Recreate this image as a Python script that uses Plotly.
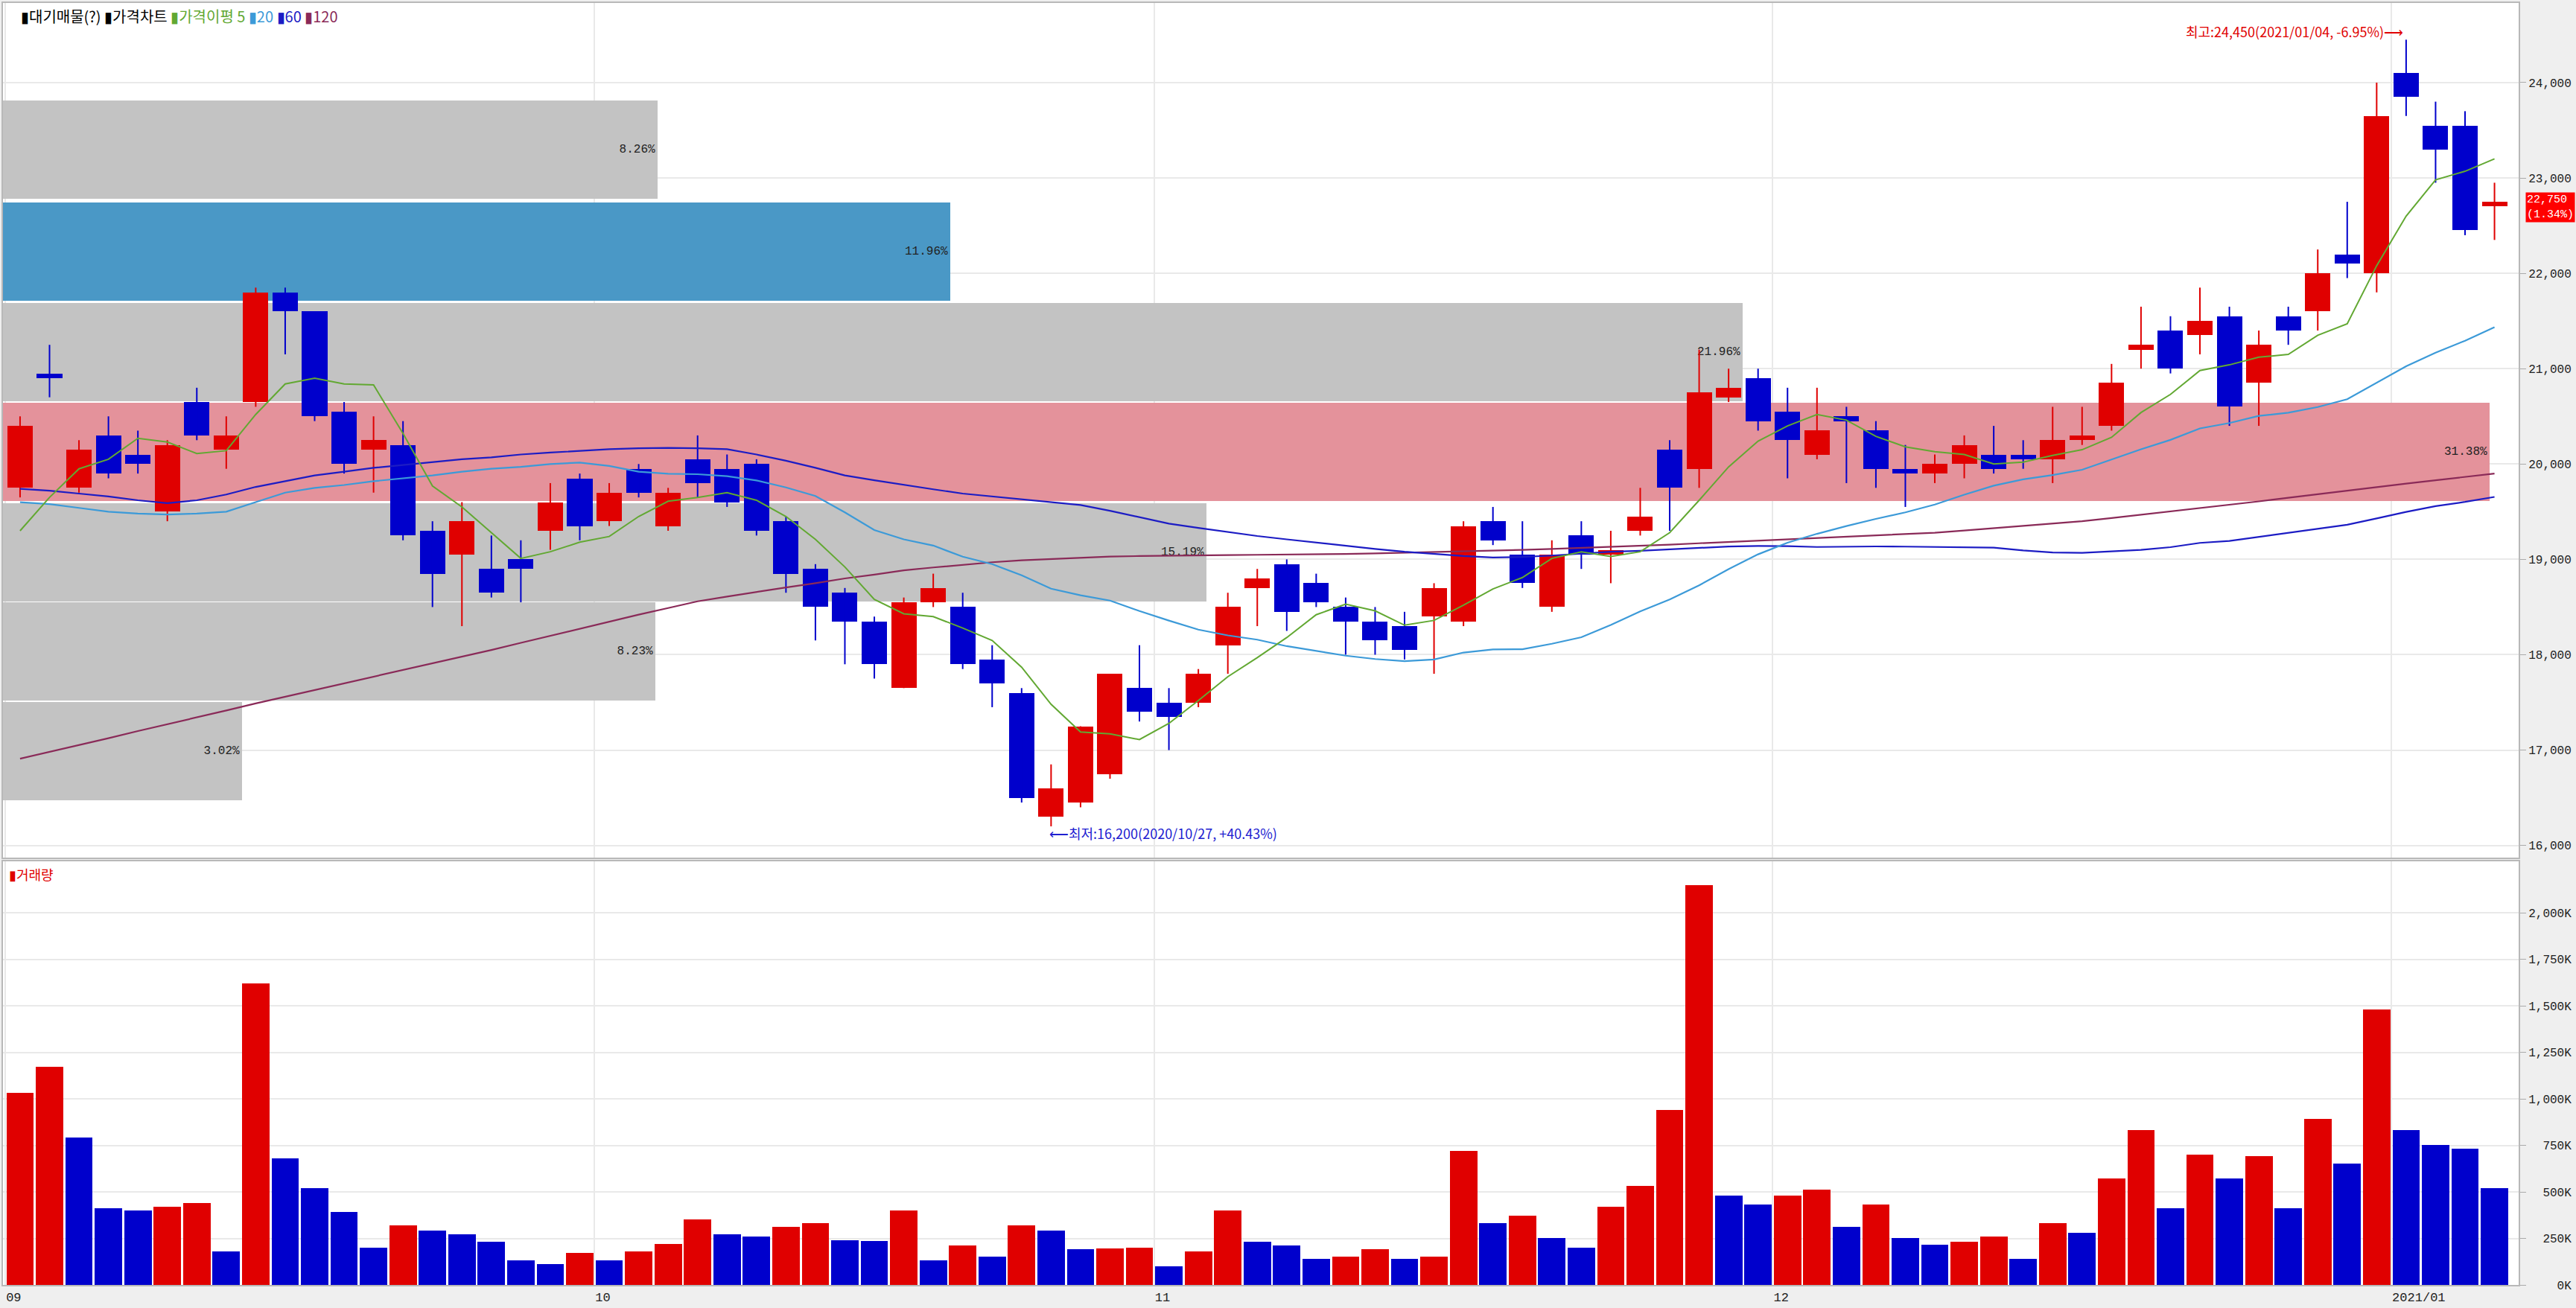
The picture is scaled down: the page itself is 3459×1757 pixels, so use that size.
import plotly.graph_objects as go

# ---------------- data ----------------
opens = [19750, 20950, 19750, 20300, 20100, 19500, 20650, 20150, 20650, 21800,
         21600, 20550, 20150, 20200, 19300, 19050, 18900, 19000, 19300, 19850,
         19400, 19950, 19350, 20050, 19950, 20000, 19400, 18900, 18650, 18350,
         17650, 18550, 18500, 17950, 17600, 16300, 16450, 16750, 17650, 17500,
         17500, 18100, 18700, 18950, 18750, 18500, 18350, 18300, 18400, 18350,
         19400, 19050, 18500, 19250, 19050, 19300, 20150, 19950, 20700, 20900,
         20550, 20100, 20500, 20350, 19950, 19900, 20000, 20100, 20100, 20050,
         20250, 20400, 21200, 21400, 21350, 21550, 20850, 21550, 21600, 22200,
         22000, 24100, 23550, 23550, 22700]
highs = [20500, 21250, 20250, 20500, 20350, 20250, 20800, 20500, 21850, 21850,
         21600, 20650, 20500, 20450, 19400, 19600, 19250, 19200, 19800, 19900,
         19800, 20000, 19750, 20300, 20100, 20050, 19450, 18950, 18700, 18400,
         18600, 18850, 18650, 18100, 17650, 16850, 17250, 17800, 18100, 17650,
         17850, 18650, 18900, 19000, 18850, 18600, 18500, 18450, 18750, 19400,
         19550, 19400, 19200, 19400, 19300, 19750, 20250, 21200, 21000, 21000,
         20800, 20800, 20600, 20450, 20200, 20100, 20300, 20400, 20250, 20600,
         20600, 21050, 21650, 21550, 21850, 21650, 21400, 21650, 22250, 22750,
         24000, 24450, 23800, 23700, 22950]
lows = [19650, 20700, 19700, 19850, 19900, 19400, 20250, 19950, 20600, 21150,
        20450, 19900, 19700, 19200, 18500, 18300, 18600, 18550, 19100, 19200,
        19350, 19650, 19300, 19650, 19550, 19250, 18650, 18150, 17900, 17750,
        17650, 18500, 17850, 17450, 16450, 16200, 16400, 16700, 17300, 17000,
        17450, 17800, 18300, 18250, 18500, 18000, 18000, 17950, 17800, 18300,
        19150, 18700, 18450, 18900, 18750, 19250, 19300, 19750, 20650, 20350,
        19850, 20050, 19800, 19750, 19550, 19800, 19850, 19900, 19950, 19800,
        20200, 20350, 21000, 20950, 21150, 20400, 20400, 21250, 21400, 21950,
        21800, 23650, 22950, 22400, 22350]
closes = [20400, 20900, 20150, 19900, 20000, 20200, 20300, 20300, 21800, 21600,
          20500, 20000, 20250, 19250, 18850, 19400, 18650, 18900, 19600, 19350,
          19700, 19700, 19700, 19800, 19600, 19300, 18850, 18500, 18350, 17900,
          18550, 18700, 17900, 17700, 16500, 16600, 17250, 17800, 17400, 17350,
          17800, 18500, 18800, 18450, 18550, 18350, 18150, 18050, 18700, 19350,
          19200, 18750, 19050, 19050, 19100, 19450, 19750, 20750, 20800, 20450,
          20250, 20350, 20450, 19950, 19900, 20000, 20200, 19950, 20050, 20250,
          20300, 20850, 21250, 21000, 21500, 20600, 21250, 21400, 22000, 22100,
          23650, 23850, 23300, 22450, 22750]
volume_k = [1030, 1170, 790, 410, 400, 420, 440, 180, 1620, 680,
            520, 390, 200, 320, 290, 270, 230, 130, 110, 170,
            130, 180, 220, 350, 270, 260, 310, 330, 240, 235,
            400, 130, 210, 150, 320, 290, 190, 195, 198, 100,
            180, 400, 230, 210, 140, 150, 190, 140, 150, 720,
            330, 370, 250, 200, 420, 530, 940, 2150, 480, 430,
            480, 510, 310, 430, 250, 215, 230, 260, 140, 330,
            280, 570, 830, 410, 700, 570, 690, 410, 890, 650,
            1480, 830, 750, 730, 520]
ma5 = [19300, 19650, 19950, 20050, 20270, 20230, 20110, 20140, 20520, 20840,
       20900, 20840, 20830, 20320, 19770, 19550, 19280, 19010, 19080, 19180,
       19240, 19450, 19610, 19650, 19700, 19620, 19450, 19210, 18920, 18580,
       18430, 18400, 18280, 18150, 17870, 17480, 17190, 17170, 17110, 17280,
       17520, 17770, 17970, 18180, 18420, 18530, 18460, 18310, 18360, 18520,
       18690, 18810, 19010, 19080, 19030, 19080, 19280, 19620, 19970, 20240,
       20400, 20520, 20460, 20290, 20180, 20130, 20100, 20000, 20020, 20090,
       20150, 20280, 20540, 20730, 20980, 21040, 21120, 21150, 21350, 21470,
       22080, 22600, 22980, 23070, 23200]
ma20 = [19600, 19580, 19540, 19500, 19480, 19470, 19480, 19500, 19600, 19700,
        19750, 19780, 19820, 19850, 19880, 19920, 19950, 19970, 20000, 20015,
        19980, 19920, 19898, 19893, 19873, 19828, 19755, 19665, 19493, 19308,
        19210, 19145, 19028, 18950, 18833, 18693, 18623, 18568, 18458, 18358,
        18263, 18203, 18158, 18090, 18038, 17990, 17955, 17933, 17950, 18023,
        18055, 18058, 18115, 18183, 18313, 18455, 18580, 18728, 18898, 19053,
        19175, 19268, 19350, 19425, 19493, 19575, 19678, 19773, 19840, 19885,
        19940, 20045, 20155, 20253, 20373, 20430, 20505, 20538, 20598, 20680,
        20850, 21025, 21168, 21293, 21435]
ma60 = [19740, 19720, 19690, 19660, 19620, 19590, 19620, 19680, 19760, 19820,
        19880, 19920, 19960, 19990, 20020, 20050, 20070, 20100, 20120, 20140,
        20155, 20165, 20170, 20165, 20155, 20100, 20035, 19960, 19880, 19830,
        19780, 19735, 19690, 19660, 19630, 19600, 19570, 19510, 19440, 19375,
        19330, 19285, 19245, 19210, 19175, 19140, 19110, 19080, 19055, 19035,
        19020, 19025, 19040, 19060, 19080, 19090, 19105, 19120, 19135, 19140,
        19139, 19130, 19135, 19136, 19134, 19131, 19129, 19123, 19094, 19072,
        19068, 19083, 19099, 19128, 19173, 19193, 19236, 19278, 19318, 19363,
        19429, 19498, 19558, 19603, 19655]
ma120 = [16910, 16980, 17055, 17125, 17200, 17270, 17340, 17415, 17490, 17560,
         17630, 17700, 17770, 17840, 17910, 17975, 18050, 18125, 18200, 18275,
         18350, 18420, 18490, 18560, 18610, 18660, 18705, 18750, 18800, 18840,
         18885, 18915, 18945, 18970, 18990, 19005, 19020, 19030, 19035, 19040,
         19042, 19045, 19048, 19050, 19053, 19056, 19063, 19070, 19077, 19084,
         19090, 19100, 19110, 19120, 19131, 19142, 19155, 19169, 19183, 19196,
         19210, 19224, 19238, 19252, 19265, 19280, 19303, 19327, 19351, 19375,
         19400, 19434, 19468, 19502, 19536, 19570, 19608, 19646, 19684, 19722,
         19760, 19795, 19830, 19865, 19900]

month_start_idx = [0, 20, 39, 60, 81]
month_labels = ["09", "10", "11", "12", "2021/01"]
high_date = "2021/01/04"
low_date = "2020/10/27"

profile_pct = [8.26, 11.96, 21.96, 31.38, 15.19, 8.23, 3.02]
profile_mid = [23300, 22230, 21175, 20125, 19075, 18035, 16990]
profile_band = 1030

price_ticks = [16000, 17000, 18000, 19000, 20000, 21000, 22000, 23000, 24000]
volume_ticks_k = [0, 250, 500, 750, 1000, 1250, 1500, 1750, 2000]

# ---------------- styles ----------------
RED = "#e00000"
BLUE = "#0000cc"
C_MA5, C_MA20, C_MA60, C_MA120 = "#62a832", "#3c9ad8", "#1c1cc4", "#8a2a58"
GRAY_BAND, BLUE_BAND, PINK_BAND = "#c3c3c3", "#4a98c6", "#e4929b"
MONO = "Liberation Mono"
KR = "Noto Sans CJK KR"

n = len(closes)
xs = list(range(n))
last = closes[-1]
prev = closes[-2]

# candles
body_base = [min(o, c) for o, c in zip(opens, closes)]
body_h = [max(abs(c - o), 20) for o, c in zip(opens, closes)]
cndl_col = [RED if c > o else BLUE for o, c in zip(opens, closes)]

wick = {RED: ([], []), BLUE: ([], [])}
for i in xs:
    wx, wy = wick[cndl_col[i]]
    wx += [i, i, None]
    wy += [lows[i], highs[i], None]

vol = [v * 1000 for v in volume_k]
vol_col = [RED if (i == 0 or vol[i] >= vol[i - 1]) else BLUE for i in xs]

pmax = max(profile_pct)
prof_col = []
for p, m in zip(profile_pct, profile_mid):
    if p == pmax:
        prof_col.append(PINK_BAND)
    elif m - 527 <= last <= m + 527:
        prof_col.append(BLUE_BAND)
    else:
        prof_col.append(GRAY_BAND)

fig = go.Figure()

# volume-profile bars (base subplot, drawn underneath)
fig.add_trace(go.Bar(
    y=profile_mid, x=profile_pct, orientation="h", width=profile_band,
    marker=dict(color=prof_col, line=dict(width=0)),
    text=[f"{p:.2f}%" for p in profile_pct], textposition="inside",
    insidetextanchor="end", textangle=0,
    textfont=dict(family=MONO, size=16, color="#222222"),
    xaxis="x", yaxis="y", hoverinfo="skip"))

# candle bodies and wicks
fig.add_trace(go.Bar(
    x=xs, y=body_h, base=body_base, width=0.86,
    marker=dict(color=cndl_col, line=dict(width=0)),
    xaxis="x2", yaxis="y", hoverinfo="skip"))
for col, (wx, wy) in wick.items():
    fig.add_trace(go.Scatter(x=wx, y=wy, mode="lines",
                             line=dict(color=col, width=2),
                             xaxis="x2", yaxis="y", hoverinfo="skip"))

# moving averages
for arr, col, w in [(ma120, C_MA120, 2.2), (ma60, C_MA60, 2.2),
                    (ma20, C_MA20, 2.2), (ma5, C_MA5, 2)]:
    fig.add_trace(go.Scatter(x=xs, y=arr, mode="lines",
                             line=dict(color=col, width=w),
                             xaxis="x2", yaxis="y", hoverinfo="skip"))

# volume
fig.add_trace(go.Bar(x=xs, y=vol, width=0.93,
                     marker=dict(color=vol_col, line=dict(width=0)),
                     xaxis="x3", yaxis="y2", hoverinfo="skip"))

xr = [-0.58, 84.82]
month_ticks = [i - 0.5 for i in month_start_idx]
border = dict(showline=True, mirror=True, linecolor="#b8b8b8", linewidth=2)
grid_c = "#e9e9e9"

def pad6(s):
    return "\u00a0" * (6 - len(s)) + s

fig.update_layout(
    width=3459, height=1757, autosize=False,
    margin=dict(l=2, r=77, t=4, b=31),
    paper_bgcolor="#efefef", plot_bgcolor="#ffffff",
    showlegend=False, bargap=0,
    xaxis=dict(domain=[0, 1], anchor="y", range=[0, 31.75], showgrid=False,
               zeroline=False, showticklabels=False, ticks="", **border),
    xaxis2=dict(overlaying="x", anchor="y", range=xr, tickvals=month_ticks,
                showticklabels=False, ticks="", showgrid=True, gridcolor=grid_c,
                gridwidth=2, zeroline=False),
    yaxis=dict(domain=[0.3333, 1], range=[15872, 24835], side="right",
               tickvals=price_ticks, ticktext=[f"{v:,}" for v in price_ticks],
               tickfont=dict(family=MONO, size=16, color="#222"),
               showgrid=True, gridcolor=grid_c, gridwidth=2, zeroline=False,
               ticks="outside", ticklen=8, tickcolor="#aaaaaa", **border),
    xaxis3=dict(domain=[0, 1], anchor="y2", range=xr, tickvals=month_ticks,
                ticktext=month_labels, ticklabelposition="outside right",
                tickfont=dict(family=MONO, size=17, color="#222"),
                ticks="", showgrid=True, gridcolor=grid_c, gridwidth=2,
                zeroline=False, **border),
    yaxis2=dict(domain=[0, 0.3304], range=[0, 2276000], side="right",
                tickvals=[v * 1000 for v in volume_ticks_k],
                ticktext=[pad6(f"{v:,}K") for v in volume_ticks_k],
                tickfont=dict(family=MONO, size=16, color="#222"),
                showgrid=True, gridcolor=grid_c, gridwidth=2, zeroline=False,
                ticks="outside", ticklen=8, tickcolor="#aaaaaa", **border),
)

hi_i = highs.index(max(highs))
lo_i = lows.index(min(lows))
hi_v, lo_v = highs[hi_i], lows[lo_i]
hi_pct = (last / hi_v - 1) * 100
lo_pct = (last / lo_v - 1) * 100
chg = (last / prev - 1) * 100

legend_html = ('<span style="color:#000">▮대기매물(?)</span> '
               '<span style="color:#000">▮가격차트</span> '
               f'<span style="color:{C_MA5}">▮가격이평 5</span> '
               f'<span style="color:{C_MA20}">▮20</span> '
               f'<span style="color:{C_MA60}">▮60</span> '
               f'<span style="color:{C_MA120}">▮120</span>')

fig.add_annotation(xref="paper", yref="paper", x=0, y=1, xanchor="left",
                   yanchor="top", xshift=22, yshift=-1, showarrow=False,
                   text=legend_html, font=dict(family=KR, size=20, color="#000"))
fig.add_annotation(xref="paper", yref="paper", x=0, y=0.3304, xanchor="left",
                   yanchor="top", xshift=6, yshift=-2, showarrow=False,
                   text="▮거래량", font=dict(family=KR, size=18, color=RED))
fig.add_annotation(xref="x2", yref="y", x=hi_i, y=hi_v, xanchor="right",
                   yanchor="middle", xshift=-2, yshift=11, showarrow=False,
                   text=f"최고:{hi_v:,}({high_date}, {hi_pct:+.2f}%)⟶",
                   font=dict(family=KR, size=18, color=RED))
fig.add_annotation(xref="x2", yref="y", x=lo_i, y=lo_v, xanchor="left",
                   yanchor="middle", xshift=-4, yshift=-9, showarrow=False,
                   text=f"⟵최저:{lo_v:,}({low_date}, {lo_pct:+.2f}%)",
                   font=dict(family=KR, size=18, color="#2020d0"))
fig.add_annotation(xref="paper", yref="y", x=1, y=last, xanchor="left",
                   yanchor="middle", xshift=9, yshift=-7, showarrow=False,
                   text=f"{last:,}<br>({chg:.2f}%)", bgcolor="#ff0000",
                   borderpad=1, align="left",
                   font=dict(family=MONO, size=15, color="#ffffff"))

fig.write_html("out.html", config={"displayModeBar": False},
               post_script="document.body.style.margin='0';document.body.style.overflow='hidden';")
